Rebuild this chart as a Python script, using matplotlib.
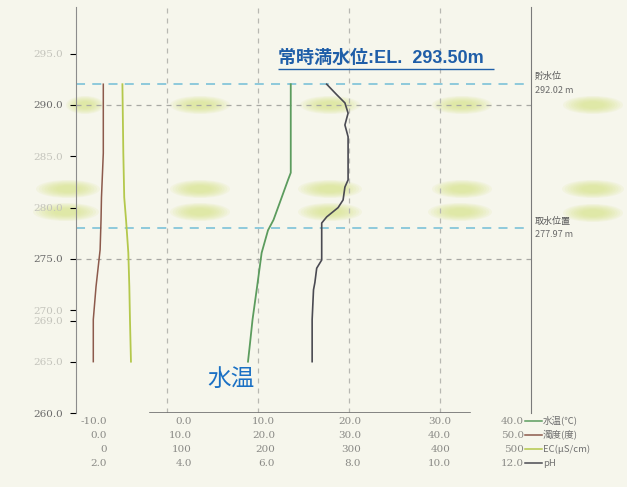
import matplotlib
matplotlib.use('Agg')
import matplotlib.pyplot as plt
from matplotlib.patches import Ellipse
from matplotlib.lines import Line2D

plt.rcParams['font.family'] = ['Noto Sans CJK JP', 'DejaVu Sans']

# profile data: elevation (EL. m) vs measured value
elev_temp = [292.02, 283.4, 282.7, 280.5, 278.8, 277.8, 275.6, 272.3, 269.1, 266.6, 265.0]
temp = [13.6, 13.6, 13.3, 12.4, 11.7, 11.1, 10.4, 9.9, 9.4, 9.1, 8.9]

elev_turb = [292.02, 285.3, 281.0, 278.8, 275.9, 272.3, 269.1, 265.0]
turb = [3.0, 3.0, 2.8, 2.75, 2.65, 2.2, 1.9, 1.9]

elev_ec = [292.02, 285.3, 281.0, 278.8, 275.6, 272.3, 269.1, 265.0]
ec = [51, 52, 53, 55, 57.5, 58.6, 59.3, 60.4]

elev_ph = [292.02, 291.0, 290.2, 289.2, 288.05, 287.4, 286.9, 282.7, 282.0, 280.75,
           280.0, 279.1, 278.5, 275.9, 274.9, 274.1, 272.7, 272.0, 269.1, 265.0]
ph = [7.51, 7.73, 7.91, 7.98, 7.91, 7.95, 7.98, 7.98, 7.91, 7.87,
      7.76, 7.51, 7.40, 7.40, 7.40, 7.29, 7.25, 7.22, 7.19, 7.19]

water_level = 292.02
intake_level = 277.97
full_level = 293.50

# four stacked x scales
temp_ticks = [-10.0, 0.0, 10.0, 20.0, 30.0, 40.0]
turb_ticks = [0.0, 10.0, 20.0, 30.0, 40.0, 50.0]
ec_ticks = [0, 100, 200, 300, 400, 500]
ph_ticks = [2.0, 4.0, 6.0, 8.0, 10.0, 12.0]

y_ticks = [295, 290, 285, 280, 275, 270, 269, 265, 260]
y_strong = [290, 275, 260]

series_names = ['水温(℃)', '濁度(度)', 'EC(μS/cm)', 'pH']
series_colors = ['#5c9c5e', '#8c5a4c', '#b4c84c', '#4a4a52']

W, H = 627, 487


def fx(x):
    return x / W


def fy(y):
    return 1 - y / H


fig = plt.figure(figsize=(6.27, 4.87), dpi=100, facecolor='#f6f6ec')
ax = fig.add_axes([fx(76), fy(413), (531 - 76) / W, (413 - 7) / H])
ax.set_facecolor('none')
ax.set_xlim(-10, 40)
ax.set_ylim(260, 299.54)

ax_turb = ax.twiny()
ax_turb.set_xlim(0, 50)
ax_ec = ax.twiny()
ax_ec.set_xlim(0, 500)
ax_ph = ax.twiny()
ax_ph.set_xlim(2, 12)
for t in (ax_turb, ax_ec, ax_ph):
    t.axis('off')

for s in ('top', 'bottom'):
    ax.spines[s].set_visible(False)
ax.spines['left'].set_color('#8c8c8c')
ax.spines['right'].set_color('#7a7a7a')
ax.set_xticks([])

# grid
for v in temp_ticks[1:-1]:
    ax.axvline(v, color='#b8b8b2', lw=0.9, ls=(0, (4, 4)), zorder=1)
for v in y_strong[:2]:
    ax.axhline(v, color='#a8a8a4', lw=0.9, ls=(0, (4, 4)), zorder=1)
ax.axhline(260, xmin=0.163, xmax=0.866, color='#707070', lw=1.2)

# water levels
for lv in (water_level, intake_level):
    ax.axhline(lv, color='#86c6da', lw=1.3, ls=(0, (5, 4)), zorder=2)

ax.annotate('貯水位', xy=(1, water_level), xycoords=('axes fraction', 'data'),
            xytext=(4, 8), textcoords='offset pixels', fontsize=6.5,
            color='#5a5a5a', va='center', ha='left', annotation_clip=False)
ax.annotate('%.2f m' % water_level, xy=(1, water_level), xycoords=('axes fraction', 'data'),
            xytext=(4, -6), textcoords='offset pixels', fontsize=6.5,
            color='#6a6a6a', va='center', ha='left', annotation_clip=False)
ax.annotate('取水位置', xy=(1, intake_level), xycoords=('axes fraction', 'data'),
            xytext=(4, 7), textcoords='offset pixels', fontsize=6.5,
            color='#5a5a5a', va='center', ha='left', annotation_clip=False)
ax.annotate('%.2f m' % intake_level, xy=(1, intake_level), xycoords=('axes fraction', 'data'),
            xytext=(4, -6), textcoords='offset pixels', fontsize=6.5,
            color='#6a6a6a', va='center', ha='left', annotation_clip=False)

# profiles
ax.plot(temp, elev_temp, color=series_colors[0], lw=1.3, zorder=4)
ax_turb.plot(turb, elev_turb, color=series_colors[1], lw=1.1, zorder=4)
ax_ec.plot(ec, elev_ec, color=series_colors[2], lw=1.3, zorder=4)
ax_ph.plot(ph, elev_ph, color=series_colors[3], lw=1.2, zorder=4)

# y axis labels
ax.set_yticks(y_ticks)
ax.set_yticklabels(['%.1f' % v for v in y_ticks], family='DejaVu Serif', fontsize=7.5)
ax.tick_params(axis='y', length=4, width=0.8, pad=5)
for tick, v in zip(ax.yaxis.get_major_ticks(), y_ticks):
    c = '#6a6a6a' if v in y_strong else '#c4c4bc'
    tick.label1.set_color(c)
    tick.tick1line.set_color('#f6f6ec' if v in y_strong else c)

# x scale labels, one row per scale
label_dx = [31, 25, 17, 12, 11, -7]
row_dy = [-8, -22, -36, -50]
rows = [
    ['%.1f' % v for v in temp_ticks],
    ['%.1f' % v for v in turb_ticks],
    ['%d' % v for v in ec_ticks],
    ['%.1f' % v for v in ph_ticks],
]
for r, labels in enumerate(rows):
    for i, lab in enumerate(labels):
        ax.annotate(lab, xy=(temp_ticks[i], 0), xycoords=('data', 'axes fraction'),
                    xytext=(label_dx[i], row_dy[r]), textcoords='offset pixels',
                    ha='right', va='center', family='DejaVu Serif', fontsize=7.5,
                    color='#8a8a86', annotation_clip=False)
    y = 413 - row_dy[r]
    fig.add_artist(Line2D([fx(525), fx(542)], [fy(y), fy(y)],
                          color=series_colors[r], lw=1.1))
    fig.text(fx(543), fy(y), series_names[r], fontsize=6.8, color='#707070',
             va='center', ha='left')

# full water level note
ax.hlines(full_level, 12.2, 35.9, color='#1f5ea8', lw=1.0, zorder=5)
ax.annotate('常時満水位:EL.  293.50m', xy=(12.2, full_level), xytext=(0, 2),
            textcoords='offset pixels', ha='left', va='bottom', fontsize=13,
            fontweight='bold', color='#1f5ea8', zorder=5,
            family=['Liberation Sans', 'Noto Sans CJK JP'])

ax.text(7.0, 263.3, '水温', ha='center', va='center', fontsize=17, color='#1a70c4')

# soft highlighter marks
blobs = [
    (85, 105, 38), (200, 105, 60), (330, 105, 60), (462, 105, 60), (593, 105, 60),
    (68, 189, 64), (200, 189, 60), (330, 189, 64), (462, 189, 60), (593, 189, 62),
    (66, 212, 66), (200, 212, 60), (330, 212, 64), (460, 212, 64), (593, 213, 60),
]
for bx, by, bw in blobs:
    for k in range(8):
        s = 1.0 - k * 0.09
        fig.add_artist(Ellipse((fx(bx), fy(by)), bw * s / W, 18 * s / H,
                               transform=fig.transFigure, color='#d8e48a',
                               alpha=0.13, lw=0, zorder=-1))

fig.savefig('out.png', dpi=100, facecolor=fig.get_facecolor())
